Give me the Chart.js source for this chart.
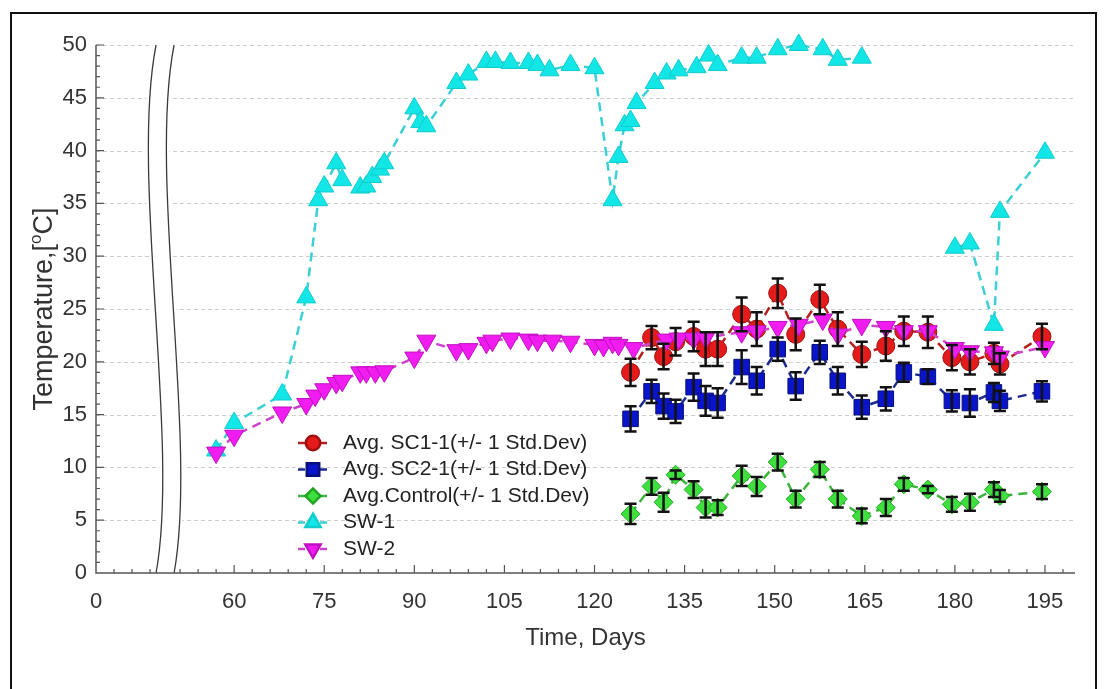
<!DOCTYPE html>
<html>
<head>
<meta charset="utf-8">
<title>Temperature vs time</title>
<script src="https://cdn.jsdelivr.net/npm/chart.js@4.4.1/dist/chart.umd.min.js"></script>
<style>
  html, body { margin: 0; padding: 0; background: #fff; }
  #wrap { position: relative; width: 1106px; height: 689px; overflow: hidden; }
  #tempChart { position: absolute; left: 0; top: 0; }
  #frame { position: absolute; left: 10px; top: 12px; width: 1083px; height: 720px; border: 2px solid #111; pointer-events: none; }
</style>
</head>
<body>
<div id="wrap">
  <canvas id="tempChart" width="1106" height="689"></canvas>
  <div id="frame"></div>
</div>
<script>
// days of the averaged probe readings (SC1, SC2, control share them)
const avgDays = [126, 129.5, 131.5, 133.5, 136.5, 138.5, 140.5, 144.5, 147, 150.5, 153.5,
  157.5, 160.5, 164.5, 168.5, 171.5, 175.5, 179.5, 182.5, 186.5, 187.5, 194.5];

const sc1Temp = [19.0, 22.3, 20.5, 21.9, 22.4, 21.2, 21.2, 24.5, 23.1, 26.5, 22.6,
  25.9, 23.1, 20.7, 21.5, 22.9, 22.8, 20.4, 20.0, 20.8, 19.8, 22.4];
const sc1Std = [1.3, 1.1, 1.2, 1.3, 1.4, 1.6, 1.6, 1.6, 1.6, 1.4, 1.5,
  1.4, 1.6, 1.2, 1.4, 1.4, 1.5, 1.2, 1.2, 1.0, 1.0, 1.2];

const sc2Temp = [14.6, 17.2, 15.8, 15.3, 17.6, 16.3, 16.1, 19.5, 18.2, 21.2, 17.7,
  20.9, 18.2, 15.7, 16.5, 19.0, 18.6, 16.3, 16.1, 17.1, 16.3, 17.2];
const sc2Std = [1.2, 1.1, 1.2, 1.1, 1.3, 1.4, 1.4, 1.6, 1.3, 1.1, 1.3,
  1.1, 1.3, 1.1, 1.1, 0.9, 0.7, 1.0, 1.3, 0.9, 0.95, 0.95];

const ctrlTemp = [5.6, 8.2, 6.7, 9.3, 7.9, 6.2, 6.2, 9.2, 8.2, 10.5, 7.0,
  9.8, 7.0, 5.4, 6.2, 8.4, 7.9, 6.5, 6.7, 7.9, 7.3, 7.7];
const ctrlStd = [0.95, 0.8, 0.9, 0.4, 0.8, 0.95, 0.7, 0.95, 0.9, 0.8, 0.8,
  0.7, 0.8, 0.7, 0.8, 0.6, 0.35, 0.7, 0.8, 0.7, 0.55, 0.7];

const sw1Days = [57, 60, 68, 72, 74, 75, 77, 78, 81, 82, 83, 84.3, 85, 90, 91, 92, 97, 99,
  102, 103.5, 106, 109, 110.5, 112.5, 116, 120, 123, 124, 125, 126, 127, 130, 132, 134,
  137, 139, 140.5, 144.5, 147, 150.5, 154, 158, 160.5, 164.5, 180, 182.5, 186.5, 187.5, 195];
const sw1Temp = [11.6, 14.2, 16.9, 26.1, 35.3, 36.6, 38.8, 37.2, 36.5, 36.6, 37.5, 38.2, 38.8,
  44.0, 42.7, 42.3, 46.4, 47.2, 48.4, 48.4, 48.3, 48.3, 48.1, 47.6, 48.1, 47.8, 35.3, 39.4,
  42.4, 42.8, 44.5, 46.4, 47.3, 47.6, 47.9, 49.0, 48.1, 48.8, 48.8, 49.6, 50.0, 49.6, 48.6,
  48.8, 30.8, 31.2, 23.5, 34.2, 39.8];

const sw2Days = [57, 60, 68, 72, 73.5, 75, 77, 78, 81, 82, 83.5, 85, 90, 92, 97, 99, 102, 103,
  106, 109, 110.5, 113, 116, 120, 121.5, 123, 124, 126.5, 132, 134, 136.5, 138.5, 144.5, 147,
  150.5, 154, 158, 160.5, 164.5, 168.5, 171.5, 175.5, 180, 182.5, 186.5, 187.5, 195];
const sw2Temp = [11.4, 13.0, 15.2, 16.0, 16.8, 17.4, 18.0, 18.2, 19.0, 19.0, 19.0, 19.1, 20.4,
  22.0, 21.1, 21.2, 21.8, 22.0, 22.2, 22.1, 22.0, 22.0, 21.9, 21.6, 21.5, 21.8, 21.6, 21.3,
  22.1, 22.2, 22.2, 22.3, 22.8, 22.9, 23.3, 23.5, 24.0, 22.6, 23.5, 23.3, 22.9, 22.9, 21.3,
  21.0, 20.9, 20.5, 21.4];

const seriesLabels = ['Avg. SC1-1(+/- 1 Std.Dev)', 'Avg. SC2-1(+/- 1 Std.Dev)',
  'Avg.Control(+/- 1 Std.Dev)', 'SW-1', 'SW-2'];
const xTickDays = [0, 60, 75, 90, 105, 120, 135, 150, 165, 180, 195];
const yTickStep = 5;

const fontFamily = '"Liberation Sans", Arial, Helvetica, sans-serif';

// the axis skips days 10..47, so later days are shifted left
const axisGap = 37;
function dayToAxis(d) { return d > 30 ? d - axisGap : d; }
function axisToDay(v) { return v > 20 ? v + axisGap : v; }

function toPoints(days, temps) {
  return days.map((d, i) => ({ x: dayToAxis(d), y: temps[i] }));
}

// grid, axis break, axis lines and inward ticks
const axisDecor = {
  id: 'axisDecor',
  beforeDatasetsDraw(chart) {
    const { ctx, chartArea: a, scales: { x, y } } = chart;
    ctx.save();

    ctx.strokeStyle = '#cdcdcd';
    ctx.lineWidth = 1;
    ctx.setLineDash([4, 3]);
    for (let v = yTickStep; v <= 50; v += yTickStep) {
      const py = Math.round(y.getPixelForValue(v)) + 0.5;
      ctx.beginPath();
      ctx.moveTo(a.left, py);
      ctx.lineTo(a.right, py);
      ctx.stroke();
    }
    ctx.setLineDash([]);

    const h = a.bottom - a.top;
    const xl = x.getPixelForValue(dayToAxis(10));
    const xr = x.getPixelForValue(dayToAxis(50));
    const curve = (x0, reverse) => {
      if (!reverse) {
        ctx.bezierCurveTo(x0 - 26, a.top + 0.25 * h, x0 + 24, a.top + 0.75 * h, x0, a.bottom);
      } else {
        ctx.bezierCurveTo(x0 + 24, a.top + 0.75 * h, x0 - 26, a.top + 0.25 * h, x0, a.top);
      }
    };
    ctx.fillStyle = '#fff';
    ctx.beginPath();
    ctx.moveTo(xl - 3, a.top - 2);
    curve(xl - 3, false);
    ctx.lineTo(xr + 3, a.bottom);
    curve(xr + 3, true);
    ctx.closePath();
    ctx.fill();

    ctx.strokeStyle = '#3a3a3a';
    ctx.lineWidth = 1.3;
    [xl, xr].forEach(x0 => {
      ctx.beginPath();
      ctx.moveTo(x0, a.top);
      curve(x0, false);
      ctx.stroke();
    });

    ctx.strokeStyle = '#555';
    ctx.lineWidth = 1.5;
    ctx.beginPath();
    ctx.moveTo(a.left, a.top);
    ctx.lineTo(a.left, a.bottom);
    ctx.lineTo(a.right, a.bottom);
    ctx.stroke();

    ctx.lineWidth = 1.2;
    ctx.beginPath();
    for (let v = 1; v <= 50; v++) {
      const py = y.getPixelForValue(v);
      const len = v % yTickStep === 0 ? 8 : 4;
      ctx.moveTo(a.left, py);
      ctx.lineTo(a.left + len, py);
    }
    const minorDays = [3, 6, 9];
    for (let d = 51; d <= 198; d += 3) minorDays.push(d);
    minorDays.forEach(d => {
      const px = x.getPixelForValue(dayToAxis(d));
      const len = xTickDays.includes(d) ? 8 : 4;
      ctx.moveTo(px, a.bottom);
      ctx.lineTo(px, a.bottom - len);
    });
    ctx.stroke();
    ctx.restore();
  }
};

const errorBars = {
  id: 'errorBars',
  afterDatasetsDraw(chart) {
    const { ctx, scales: { y } } = chart;
    ctx.save();
    ctx.strokeStyle = '#111';
    ctx.lineWidth = 2.5;
    chart.data.datasets.forEach((ds, di) => {
      if (!ds.stdDev) return;
      const meta = chart.getDatasetMeta(di);
      meta.data.forEach((pt, i) => {
        const v = ds.data[i].y;
        const top = y.getPixelForValue(v + ds.stdDev[i]);
        const bot = y.getPixelForValue(v - ds.stdDev[i]);
        ctx.beginPath();
        ctx.moveTo(pt.x, top);
        ctx.lineTo(pt.x, bot);
        ctx.moveTo(pt.x - 6, top);
        ctx.lineTo(pt.x + 6, top);
        ctx.moveTo(pt.x - 6, bot);
        ctx.lineTo(pt.x + 6, bot);
        ctx.stroke();
      });
    });
    ctx.restore();
  }
};

const insideLegend = {
  id: 'insideLegend',
  afterDraw(chart) {
    const { ctx } = chart;
    ctx.save();
    ctx.font = '21px ' + fontFamily;
    ctx.textBaseline = 'middle';
    chart.data.datasets.forEach((ds, i) => {
      const yRow = 443 + i * 26.5;
      ctx.strokeStyle = ds.borderColor;
      ctx.lineWidth = 2.5;
      ctx.setLineDash([7, 4]);
      ctx.beginPath();
      ctx.moveTo(298, yRow);
      ctx.lineTo(329, yRow);
      ctx.stroke();
      ctx.setLineDash([]);
      ctx.fillStyle = ds.pointBackgroundColor;
      ctx.strokeStyle = ds.pointBorderColor;
      Chart.helpers.drawPoint(ctx, {
        pointStyle: ds.pointStyle,
        rotation: ds.pointRotation || 0,
        radius: ds.pointRadius * 0.8,
        borderWidth: 1
      }, 313, yRow);
      ctx.fillStyle = '#222';
      ctx.fillText(ds.label, 343, yRow);
    });
    ctx.restore();
  }
};

const yTitle = {
  id: 'yTitle',
  afterDraw(chart) {
    const { ctx, chartArea: a } = chart;
    const big = '27px ' + fontFamily;
    const small = '17px ' + fontFamily;
    ctx.save();
    ctx.translate(45, (a.top + a.bottom) / 2);
    ctx.rotate(-Math.PI / 2);
    ctx.fillStyle = '#333';
    ctx.textBaseline = 'middle';
    ctx.font = big;
    const w1 = ctx.measureText('Temperature,[').width;
    const w3 = ctx.measureText('C]').width;
    ctx.font = small;
    const w2 = ctx.measureText('o').width;
    const cx = -(w1 + w2 + w3) / 2;
    ctx.font = big;
    ctx.fillText('Temperature,[', cx, 0);
    ctx.font = small;
    ctx.fillText('o', cx + w1, -9);
    ctx.font = big;
    ctx.fillText('C]', cx + w1 + w2, 0);
    ctx.restore();
  }
};

const lineStyle = { borderWidth: 2.5, borderDash: [9, 6], pointBorderWidth: 1, tension: 0, clip: false };

const datasets = [
  { label: seriesLabels[0], data: toPoints(avgDays, sc1Temp), stdDev: sc1Std,
    borderColor: '#b42020', pointBackgroundColor: '#e51a1a', pointBorderColor: '#a01010',
    pointStyle: 'circle', pointRadius: 9, order: 5, ...lineStyle },
  { label: seriesLabels[1], data: toPoints(avgDays, sc2Temp), stdDev: sc2Std,
    borderColor: '#1c2a8c', pointBackgroundColor: '#0a14c8', pointBorderColor: '#06107a',
    pointStyle: 'rect', pointRadius: 11, order: 4, ...lineStyle },
  { label: seriesLabels[2], data: toPoints(avgDays, ctrlTemp), stdDev: ctrlStd,
    borderColor: '#3cb43c', pointBackgroundColor: '#3ee03e', pointBorderColor: '#22a622',
    pointStyle: 'rectRot', pointRadius: 9.5, order: 3, ...lineStyle },
  { label: seriesLabels[3], data: toPoints(sw1Days, sw1Temp),
    borderColor: '#3bcfd6', pointBackgroundColor: '#12e6e6', pointBorderColor: '#10cccc',
    pointStyle: 'triangle', pointRadius: 11, order: 2, ...lineStyle,
    segment: { borderColor: c => (c.p1.parsed.x - c.p0.parsed.x > 12 ? 'rgba(0,0,0,0)' : undefined) } },
  { label: seriesLabels[4], data: toPoints(sw2Days, sw2Temp),
    borderColor: '#cc44cc', pointBackgroundColor: '#f01cf0', pointBorderColor: '#c010c0',
    pointStyle: 'triangle', pointRotation: 180, pointRadius: 11, order: 1, ...lineStyle }
];

new Chart(document.getElementById('tempChart'), {
  type: 'line',
  data: { datasets },
  plugins: [axisDecor, errorBars, insideLegend, yTitle],
  options: {
    responsive: false,
    animation: false,
    events: [],
    layout: { padding: { top: 45, right: 31, bottom: 0, left: 0 } },
    plugins: { legend: { display: false }, tooltip: { enabled: false } },
    scales: {
      x: {
        type: 'linear',
        min: 0,
        max: dayToAxis(200),
        grid: { display: false, drawTicks: false },
        border: { display: false },
        afterBuildTicks: scale => { scale.ticks = xTickDays.map(d => ({ value: dayToAxis(d) })); },
        afterFit: scale => { scale.height = 116; },
        ticks: {
          padding: 16,
          color: '#333',
          font: { family: fontFamily, size: 22 },
          maxRotation: 0,
          autoSkip: false,
          callback: v => String(axisToDay(v))
        },
        title: {
          display: true,
          text: 'Time, Days',
          color: '#333',
          font: { family: fontFamily, size: 24 },
          padding: { top: 0, bottom: 36 }
        }
      },
      y: {
        min: 0,
        max: 50,
        grid: { display: false, drawTicks: false },
        border: { display: false },
        afterFit: scale => { scale.width = 96; },
        ticks: {
          stepSize: yTickStep,
          padding: 9,
          color: '#333',
          font: { family: fontFamily, size: 22 }
        }
      }
    }
  }
});
</script>
</body>
</html>
